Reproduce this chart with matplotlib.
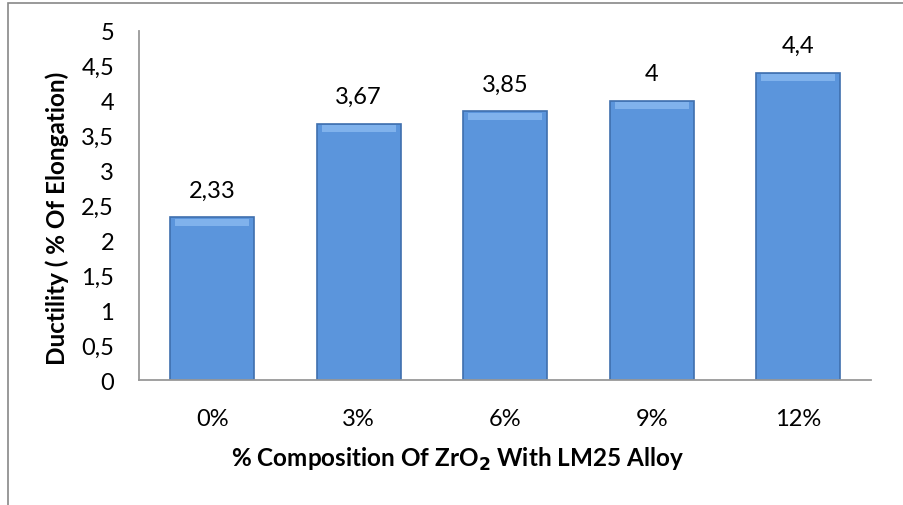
import matplotlib.pyplot as plt
import numpy as np

# data
compositions = ['0%', '3%', '6%', '9%', '12%']
ductility = [2.33, 3.67, 3.85, 4.0, 4.4]
value_labels = ['2,33', '3,67', '3,85', '4', '4,4']
y_ticks = [0, 0.5, 1, 1.5, 2, 2.5, 3, 3.5, 4, 4.5, 5]
y_tick_labels = ['0', '0,5', '1', '1,5', '2', '2,5', '3', '3,5', '4', '4,5', '5']

plt.rcParams['font.family'] = ['Lato', 'DejaVu Sans']

fig = plt.figure(figsize=(9.04, 5.06), dpi=100)
ax = fig.add_axes([0.1538, 0.247, 0.81, 0.69])

x = np.arange(len(compositions))
w = 0.574

# main bars with a darker edge to mimic the bevel
ax.bar(x, ductility, width=w, color='#5b95dc', edgecolor='#3f6fae',
       linewidth=1.2, zorder=2)
# lighter strip on top of each bar
top_h = 0.1
ax.bar(x, [top_h] * len(x), bottom=[v - top_h - 0.02 for v in ductility],
       width=w * 0.88, color='#80b2ec', linewidth=0, zorder=3)

for xi, v, lab in zip(x, ductility, value_labels):
    ax.text(xi, v + 0.24, lab, ha='center', va='bottom', fontsize=17)

ax.set_xlim(-0.5, len(x) - 0.5)
ax.set_ylim(0, 5)
ax.set_yticks(y_ticks)
ax.set_yticklabels(y_tick_labels, fontsize=17)
ax.set_xticks(x)
ax.set_xticklabels(compositions, fontsize=17)
ax.tick_params(axis='y', length=0, pad=18)
ax.tick_params(axis='x', length=0, pad=20)

for s in ['top', 'right']:
    ax.spines[s].set_visible(False)
for s in ['left', 'bottom']:
    ax.spines[s].set_color('#999999')
    ax.spines[s].set_linewidth(1.3)

fig.text(0.063, 0.569, 'Ductility ( % Of Elongation)', rotation=90,
         ha='center', va='center', fontsize=17.5, fontweight='bold')
fig.text(0.506, 0.092, '% Composition Of ZrO$_\\mathbf{2}$ With LM25 Alloy',
         ha='center', va='center', fontsize=17.5, fontweight='bold')

# outer chart border
fig.add_artist(plt.Rectangle((0.009, -0.01), 1.2, 1.003,
                             transform=fig.transFigure, fill=False,
                             edgecolor='#888888', linewidth=1.2))

fig.savefig('out.png', dpi=100)
